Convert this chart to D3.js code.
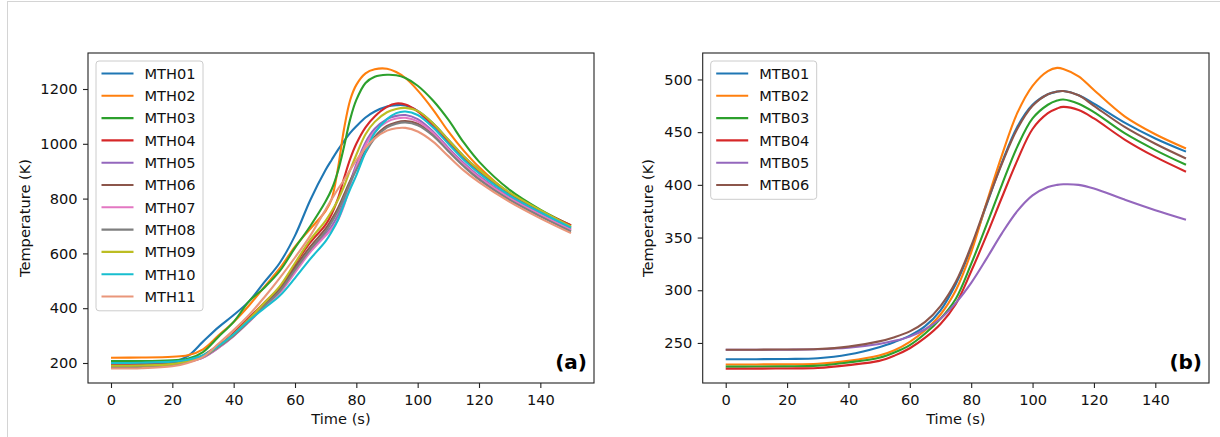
<!DOCTYPE html>
<html>
<head>
<meta charset="utf-8">
<script src="https://cdn.jsdelivr.net/npm/d3@7"></script>
<style>
  body { margin: 0; background: #fff; }
  svg { display: block; font-family: "DejaVu Sans", sans-serif; }
</style>
</head>
<body>
<svg id="chart" width="1220" height="437"></svg>
<script>
// ===== DATA =====
// panel (a): MTH sensors
const timeA = [0, 10, 20, 25, 30, 35, 40, 45, 50, 55, 60, 65, 70, 72, 74, 76, 78, 80, 83, 86, 90, 93, 96, 100, 105, 110, 115, 120, 130, 140, 150];
const mth01 = [201, 202, 205, 225, 278, 330, 375, 425, 495, 565, 665, 795, 905, 942, 978, 1010, 1040, 1064, 1096, 1118, 1136, 1141, 1140, 1120, 1075, 1015, 955, 905, 820, 755, 695];
const mth02 = [219, 220, 223, 228, 250, 300, 350, 410, 478, 545, 625, 690, 755, 800, 910, 1055, 1160, 1215, 1257, 1272, 1274, 1262, 1240, 1195, 1125, 1045, 975, 915, 818, 748, 692];
const mth03 = [207, 207, 210, 215, 240, 295, 350, 425, 475, 535, 620, 700, 790, 835, 900, 990, 1090, 1160, 1222, 1245, 1252, 1250, 1240, 1212, 1158, 1088, 1005, 935, 832, 760, 702];
const mth04 = [195, 196, 200, 208, 225, 260, 310, 365, 420, 475, 560, 640, 705, 745, 800, 875, 945, 1000, 1060, 1100, 1135, 1147, 1143, 1118, 1065, 1005, 948, 898, 815, 755, 703];
const mth05 = [190, 191, 195, 205, 220, 255, 300, 355, 410, 465, 545, 610, 670, 700, 738, 790, 860, 925, 1005, 1055, 1090, 1102, 1105, 1090, 1045, 985, 930, 882, 805, 745, 688];
const mth06 = [190, 191, 198, 210, 228, 265, 305, 360, 415, 470, 550, 625, 690, 725, 765, 815, 865, 910, 975, 1025, 1065, 1078, 1083, 1073, 1035, 978, 922, 875, 798, 738, 683];
const mth07 = [185, 186, 192, 203, 220, 255, 298, 350, 405, 455, 530, 605, 665, 690, 722, 775, 850, 915, 995, 1045, 1080, 1092, 1095, 1082, 1040, 980, 925, 878, 802, 742, 686];
const mth08 = [185, 186, 193, 205, 222, 258, 300, 352, 408, 462, 540, 615, 680, 715, 755, 805, 858, 905, 968, 1020, 1060, 1073, 1078, 1068, 1030, 973, 918, 870, 795, 735, 680];
const mth09 = [190, 191, 196, 206, 225, 262, 305, 360, 420, 480, 565, 650, 720, 755, 795, 845, 905, 960, 1035, 1080, 1115, 1127, 1131, 1120, 1075, 1015, 955, 905, 822, 758, 698];
const mth10 = [200, 201, 205, 212, 228, 262, 305, 355, 400, 445, 510, 580, 645, 680, 722, 780, 835, 885, 970, 1040, 1090, 1112, 1118, 1105, 1060, 1000, 942, 893, 812, 750, 694];
const mth11 = [180, 181, 188, 200, 222, 270, 320, 375, 440, 510, 585, 665, 760, 798, 835, 868, 905, 940, 985, 1020, 1048, 1057, 1058, 1045, 1008, 955, 903, 860, 788, 728, 674];
const namesA = ["MTH01", "MTH02", "MTH03", "MTH04", "MTH05", "MTH06", "MTH07", "MTH08", "MTH09", "MTH10", "MTH11"];
const valuesA = [mth01, mth02, mth03, mth04, mth05, mth06, mth07, mth08, mth09, mth10, mth11];

// panel (b): MTB sensors
const timeB = [0, 10, 20, 30, 40, 50, 55, 60, 65, 70, 75, 80, 85, 90, 95, 100, 105, 108, 110, 115, 120, 130, 140, 150];
const mtb01 = [234.5, 234.6, 234.8, 235.5, 239, 246, 251, 257, 266, 281, 306, 340, 381, 421, 455, 476, 486, 488.5, 489, 485, 477, 459, 444, 431.5];
const mtb02 = [229.5, 229.6, 229.8, 230.3, 233, 238, 243, 251, 262, 277, 300, 336, 383, 428, 468, 494, 508, 511, 510, 503, 490, 465, 448, 434.5];
const mtb03 = [227.5, 227.6, 227.8, 228.5, 231.5, 236, 241, 248, 259, 273, 292, 325, 362, 400, 436, 463, 476, 480, 481, 477, 469, 449, 433, 419];
const mtb04 = [225.5, 225.6, 225.8, 226.3, 229, 233, 238, 245, 255, 268, 287, 318, 352, 388, 423, 453, 468, 472.5, 474, 471, 463, 443, 426.5, 412.5];
const mtb05 = [243.5, 243.5, 243.6, 244, 245.5, 249, 252, 256, 263, 273, 288, 307, 330, 354, 375, 390, 398, 400, 400.5, 400, 396.5, 386, 376, 367];
const mtb06 = [243.5, 243.6, 243.8, 244.2, 246.5, 251.5, 255.5, 261, 270, 285, 308, 342, 382, 420, 453, 475, 486, 488.5, 489, 485, 475, 455, 439, 425];
const namesB = ["MTB01", "MTB02", "MTB03", "MTB04", "MTB05", "MTB06"];
const valuesB = [mtb01, mtb02, mtb03, mtb04, mtb05, mtb06];

const xTicks = [0, 20, 40, 60, 80, 100, 120, 140];
const yTicksA = [200, 400, 600, 800, 1000, 1200];
const yTicksB = [250, 300, 350, 400, 450, 500];

// ===== STYLE =====
const palette = ["#1f77b4", "#ff7f0e", "#2ca02c", "#d62728", "#9467bd", "#8c564b",
                 "#e377c2", "#7f7f7f", "#bcbd22", "#17becf", "#e9967a"];
const fontSize = 14.6;
const svg = d3.select("#chart");

// light frame around the whole figure
svg.append("rect")
  .attr("x", 7.5).attr("y", 1.5)
  .attr("width", 1230).attr("height", 450)
  .attr("fill", "none")
  .attr("stroke", "#d4d4d4");

function drawPanel(p) {
  const x = d3.scaleLinear().domain([-7.5, 157.5]).range([p.left, p.right]);
  const y = d3.scaleLinear().domain(p.yDomain).range([383, 53]);
  const g = svg.append("g");

  // clip for data lines
  g.append("clipPath").attr("id", p.id + "-clip")
    .append("rect")
    .attr("x", p.left).attr("y", 53)
    .attr("width", p.right - p.left).attr("height", 330);

  const line = d3.line()
    .x(d => x(d[0]))
    .y(d => y(d[1]))
    .curve(d3.curveCatmullRom.alpha(0.5));

  p.values.forEach((vals, i) => {
    g.append("path")
      .datum(p.time.map((t, k) => [t, vals[k]]))
      .attr("clip-path", `url(#${p.id}-clip)`)
      .attr("fill", "none")
      .attr("stroke", palette[i])
      .attr("stroke-width", 2.1)
      .attr("stroke-linejoin", "round")
      .attr("d", line);
  });

  // axes
  const xAxis = g.append("g")
    .attr("transform", "translate(0,383)")
    .call(d3.axisBottom(x).tickValues(xTicks).tickFormat(d3.format("d"))
      .tickSize(5).tickPadding(6.5).tickSizeOuter(0));
  const yAxis = g.append("g")
    .attr("transform", `translate(${p.left},0)`)
    .call(d3.axisLeft(y).tickValues(p.yTicks).tickFormat(d3.format("d"))
      .tickSize(5).tickPadding(5.5).tickSizeOuter(0));
  [xAxis, yAxis].forEach(a => {
    a.select(".domain").remove();
    a.selectAll("line").attr("stroke", "#222").attr("stroke-width", 1.1);
    a.selectAll("text").attr("fill", "#111").style("font-size", fontSize + "px")
      .style("font-family", "'DejaVu Sans', sans-serif");
  });

  // frame
  g.append("rect")
    .attr("x", p.left).attr("y", 53)
    .attr("width", p.right - p.left).attr("height", 330)
    .attr("fill", "none")
    .attr("stroke", "#222")
    .attr("stroke-width", 1.1);

  // axis titles
  g.append("text")
    .attr("x", (p.left + p.right) / 2).attr("y", 424)
    .attr("text-anchor", "middle")
    .attr("fill", "#111")
    .style("font-size", fontSize + "px")
    .text("Time (s)");
  g.append("text")
    .attr("transform", `translate(${p.yLabelX},218) rotate(-90)`)
    .attr("text-anchor", "middle")
    .attr("fill", "#111")
    .style("font-size", fontSize + "px")
    .text("Temperature (K)");

  // panel tag
  g.append("text")
    .attr("x", p.right - 7).attr("y", 369)
    .attr("text-anchor", "end")
    .attr("fill", "#000")
    .style("font-size", "20px")
    .style("font-weight", "bold")
    .text(p.tag);

  // legend
  const lg = g.append("g").attr("transform", `translate(${p.left + 8},${61})`);
  const rowH = 22.3;
  lg.append("rect")
    .attr("x", 0).attr("y", 0)
    .attr("width", p.legendW)
    .attr("height", p.names.length * rowH + 4.5)
    .attr("rx", 3).attr("ry", 3)
    .attr("fill", "rgba(255,255,255,0.8)")
    .attr("stroke", "#cccccc")
    .attr("stroke-width", 1);
  p.names.forEach((name, i) => {
    const cy = 12.5 + i * rowH;
    lg.append("line")
      .attr("x1", 5.5).attr("x2", 37.5)
      .attr("y1", cy).attr("y2", cy)
      .attr("stroke", palette[i])
      .attr("stroke-width", 2.1);
    lg.append("text")
      .attr("x", 48.5).attr("y", cy + 5.3)
      .attr("fill", "#111")
      .style("font-size", fontSize + "px")
      .text(name);
  });
}

drawPanel({
  id: "a", tag: "(a)", left: 88, right: 594, yLabelX: 30,
  yDomain: [127, 1331.4], yTicks: yTicksA,
  time: timeA, values: valuesA, names: namesA, legendW: 107
});
drawPanel({
  id: "b", tag: "(b)", left: 702.7, right: 1209, yLabelX: 653,
  yDomain: [212, 525.1], yTicks: yTicksB,
  time: timeB, values: valuesB, names: namesB, legendW: 106
});
</script>
</body>
</html>
